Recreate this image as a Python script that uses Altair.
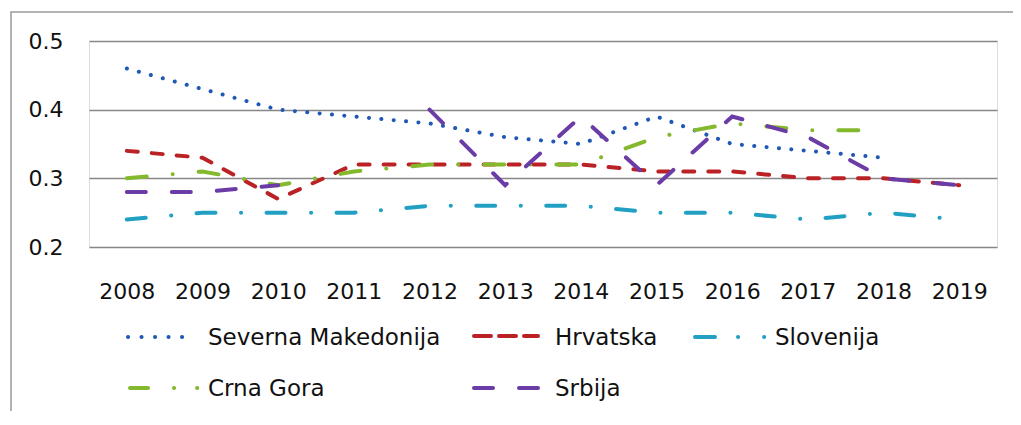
import altair as alt
import pandas as pd

years = ["2008", "2009", "2010", "2011", "2012", "2013", "2014", "2015", "2016", "2017", "2018", "2019"]
series_names = ["Severna Makedonija", "Hrvatska", "Slovenija", "Crna Gora", "Srbija"]
severna_makedonija = [0.46, 0.43, 0.40, 0.39, 0.38, 0.36, 0.35, 0.39, 0.35, 0.34, 0.33, None]
hrvatska = [0.34, 0.33, 0.27, 0.32, 0.32, 0.32, 0.32, 0.31, 0.31, 0.30, 0.30, 0.29]
slovenija = [0.24, 0.25, 0.25, 0.25, 0.26, 0.26, 0.26, 0.25, 0.25, 0.24, 0.25, 0.24]
crna_gora = [0.30, 0.31, 0.29, 0.31, 0.32, 0.32, 0.32, 0.36, 0.38, 0.37, 0.37, None]
srbija = [0.28, 0.28, 0.29, None, 0.40, 0.29, 0.39, 0.29, 0.39, 0.36, 0.30, 0.29]
y_ticks = [0.2, 0.3, 0.4, 0.5]

values = [severna_makedonija, hrvatska, slovenija, crna_gora, srbija]
rows = []
for name, vals in zip(series_names, values):
    for yr, v in zip(years, vals):
        if name in ("Severna Makedonija", "Crna Gora") and v is None:
            continue
        rows.append({"year": yr, "value": v, "series": name})
df = pd.DataFrame(rows)

colors = ["#1f58b5", "#bb2226", "#22a0c4", "#84b92e", "#6b3ba6"]
plot_dash = [[0.1, 12.3], [11, 14], [19, 25.5, 0.1, 25.4], [20, 26, 0.1, 26], [19, 26]]
legend_dash = [[0.1, 13.4], [17, 8], [20, 23, 0.1, 26, 0.1, 200], [18, 26, 0.1, 23, 0.1, 200], [19, 26]]

W, H = 908, 206
FONT = "DejaVu Sans"

layers = []
# outer frame
frame = alt.Chart(pd.DataFrame({"k": [0]})).mark_rect(
    fillOpacity=0, stroke="#9a9a9a", strokeWidth=1.5
).encode(x=alt.value(-78), x2=alt.value(960), y=alt.value(-29), y2=alt.value(420))
layers.append(frame)

for i, name in enumerate(series_names):
    line = alt.Chart(df).transform_filter(
        alt.datum.series == name
    ).mark_line(
        color=colors[i], strokeDash=plot_dash[i], strokeWidth=4, strokeCap="round",
        invalid="break-paths-show-domains"
    ).encode(
        x=alt.X("year:O", title=None,
                scale=alt.Scale(padding=0.5),
                axis=alt.Axis(labelAngle=0, ticks=False, domain=False, labelPadding=34,
                              labelFontSize=22, labelFont=FONT, labelColor="#111111")),
        y=alt.Y("value:Q", title=None,
                scale=alt.Scale(domain=[0.2, 0.5], nice=False, zero=False),
                axis=alt.Axis(values=y_ticks, format=".1f", ticks=False, domain=False,
                              labelPadding=26, labelFontSize=22, labelFont=FONT,
                              labelColor="#111111", grid=True, gridColor="#878787",
                              gridWidth=1.6)),
    )
    layers.append(line)

# legend (page coordinates converted to plot coordinates: origin at page (89, 41))
ox, oy = 89, 41
sym_pos = [(128, 195, 337), (474, 538, 336), (695, 767, 337), (130, 201, 388), (474, 538, 388)]
txt_pos = [(208, 338), (555, 338), (775, 338), (208, 389), (555, 389)]
for i, name in enumerate(series_names):
    x1, x2, sy = sym_pos[i]
    rule = alt.Chart(pd.DataFrame({"s": [name]})).mark_rule(
        color=colors[i], strokeDash=legend_dash[i], strokeWidth=4, strokeCap="round"
    ).encode(x=alt.value(x1 - ox), x2=alt.value(x2 - ox), y=alt.value(sy - oy))
    tx, ty = txt_pos[i]
    txt = alt.Chart(pd.DataFrame({"label": [name]})).mark_text(
        align="left", baseline="middle", fontSize=23, font=FONT, color="#111111"
    ).encode(x=alt.value(tx - ox), y=alt.value(ty - oy), text="label:N")
    layers += [rule, txt]

chart = alt.layer(*layers).properties(
    width=W, height=H,
    autosize=alt.AutoSizeParams(type="none"),
    padding={"left": 81, "top": 33, "right": 16, "bottom": 164},
).configure_view(stroke=None).configure(background="white")

chart.save("out.html", embed_options={"renderer": "svg", "actions": False})
